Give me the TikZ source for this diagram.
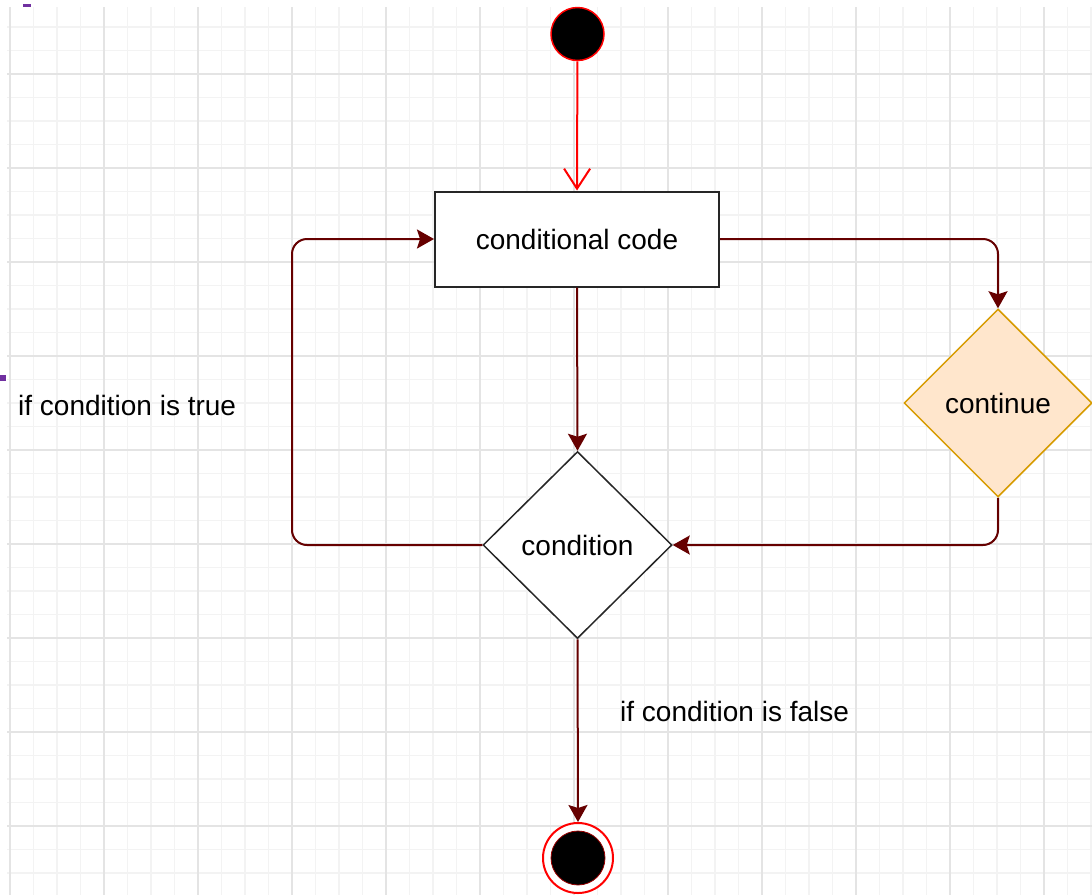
\documentclass[tikz,border=0pt]{standalone}
\usepackage{fontspec}
\setmainfont{Liberation Sans}
\usetikzlibrary{shapes.geometric,arrows.meta}
\definecolor{flowred}{HTML}{660000}
\definecolor{contfill}{HTML}{FFE6CC}
\definecolor{contdraw}{HTML}{D79B00}
\definecolor{gridmajor}{HTML}{E4E4E4}
\definecolor{gridminor}{HTML}{F3F3F3}
\definecolor{markpurple}{HTML}{7030A0}
\tikzset{
  every node/.style={font=\fontsize{28}{34}\selectfont, inner sep=0pt},
  startstate/.style={circle, fill=black, draw=red, line width=1.5pt, minimum size=53pt},
  endstate/.style={circle, fill=white, draw=red, line width=2pt, minimum size=70pt},
  endcore/.style={circle, fill=black, draw=red!60!black, line width=0.8pt, minimum size=54pt},
  actbox/.style={rectangle, draw=black!85, fill=white, line width=2pt, minimum width=284pt, minimum height=95pt},
  decision/.style={diamond, draw=black!85, fill=white, line width=1.5pt, minimum width=189pt, minimum height=187pt},
  contdec/.style={diamond, draw=contdraw, fill=contfill, line width=1.5pt, minimum width=188pt, minimum height=188pt},
  flow/.style={draw=flowred, line width=2pt, rounded corners=15pt, -{Stealth[length=17pt,width=19pt,inset=3pt]}},
  startflow/.style={draw=red, line width=2pt, -{Straight Barb[length=20pt,width=26pt]}},
  label/.style={anchor=base west},
}
\begin{document}
\begin{tikzpicture}[x=1pt,y=-1pt]
  \fill[white] (0,0) rectangle (1092,895);
  \useasboundingbox (0,0) rectangle (1092,895);
  % grid
  \begin{scope}
    \clip (7,7) rectangle (1092,895);
    \foreach \i in {0,...,46} \draw[gridminor, line width=1.5pt] ({10+23.5*\i},7) -- ({10+23.5*\i},895);
    \foreach \i in {1,...,38} \draw[gridminor, line width=1.5pt] (7,{3.5+23.5*\i}) -- (1092,{3.5+23.5*\i});
    \foreach \i in {0,...,11} \draw[gridmajor, line width=1.8pt] ({10+94*\i},7) -- ({10+94*\i},895);
    \foreach \i in {0,...,8} \draw[gridmajor, line width=1.8pt] (7,{74+94*\i}) -- (1092,{74+94*\i});
  \end{scope}
  % small marks
  \fill[markpurple] (23,4) rectangle (31,7);
  \fill[markpurple] (0,375) rectangle (6,381);
  % nodes
  \node[startstate] (start) at (577.5,34) {};
  \node[actbox] (code) at (577,239) {conditional code};
  \node[decision] (cond) at (577.5,545) {condition};
  \node[contdec] (cont) at (998,403) {continue};
  \node[endstate] (stop) at (578,858) {};
  \node[endcore] (stopcore) at (stop.center) {};
  \coordinate (loopL) at (292,0);
  % connectors
  \draw[startflow] (start) -- (code.north);
  \draw[flow] (code.south) -- (cond.north);
  \draw[flow] (cond.south) -- (stop.north);
  \draw[flow] (cond.west) -- (cond.west -| loopL) -- (code.west -| loopL) -- (code.west);
  \draw[flow] (code.east) -| (cont.north);
  \draw[flow] (cont.south) |- (cond.east);
  % labels
  \node[label] (ltrue) at (18,415) {if condition is true};
  \node[label] (lfalse) at (620,721) {if condition is false};
\end{tikzpicture}
\end{document}
